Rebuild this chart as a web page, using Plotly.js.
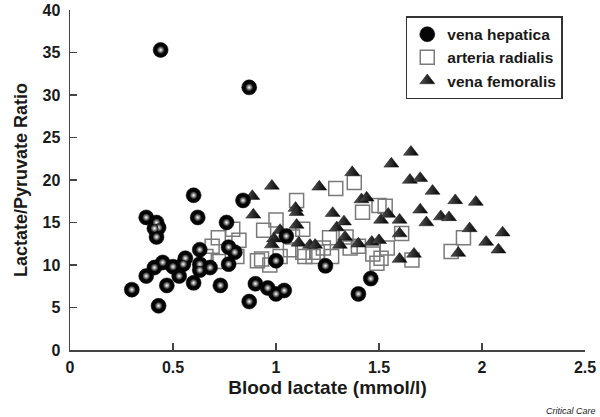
<!DOCTYPE html>
<html>
<head>
<meta charset="utf-8">
<script src="https://cdn.plot.ly/plotly-3.0.1.min.js"></script>
<style>html,body{margin:0;padding:0;background:#fff;}#chart{width:600px;height:417px;}</style>
</head>
<body>
<div id="chart"></div>
<script>
// vena hepatica (spheres)
const hepaticaX = [0.44,0.87,0.60,0.37,0.42,0.43,0.41,0.42,0.62,0.76,0.84,1.05,0.63,0.77,0.80,0.56,0.45,0.50,0.41,0.63,0.68,0.77,0.63,0.55,0.37,0.53,0.60,0.47,0.73,0.30,0.43,0.90,0.96,1.00,1.04,0.87,1.00,1.24,1.46,1.40];
const hepaticaY = [35.3,30.9,18.2,15.6,15.0,14.4,14.3,13.3,15.6,15.0,17.6,13.4,11.8,12.1,11.5,10.8,10.3,9.8,9.7,10.1,9.7,10.1,9.4,10.1,8.7,8.7,7.9,7.6,7.6,7.1,5.2,7.8,7.3,6.6,7.0,5.7,10.5,9.9,8.4,6.6];
// arteria radialis (open squares)
const radialisX = [0.66,0.69,0.72,0.72,0.79,0.82,0.81,0.91,0.93,0.94,0.97,1.00,1.02,1.07,1.08,1.10,1.13,1.13,1.14,1.18,1.20,1.23,1.26,1.27,1.29,1.34,1.36,1.38,1.40,1.42,1.47,1.49,1.51,1.50,1.53,1.54,1.61,1.66,1.85,1.91];
const radialisY = [11.0,12.2,10.4,13.2,14.2,12.9,11.0,10.5,10.7,14.1,10.0,15.3,11.0,11.8,13.3,17.6,14.2,11.5,11.0,11.0,11.5,12.0,13.2,11.0,19.0,13.3,12.0,19.7,12.2,16.2,11.3,10.2,10.8,17.0,16.9,12.0,13.7,10.6,11.6,13.2];
// vena femoralis (triangles)
const femoralisX = [0.885,0.98,0.89,1.02,0.99,0.98,1.095,1.10,1.10,1.11,1.165,1.19,1.21,1.275,1.295,1.33,1.335,1.31,1.37,1.40,1.415,1.44,1.465,1.50,1.51,1.545,1.56,1.60,1.60,1.60,1.655,1.65,1.70,1.67,1.70,1.73,1.76,1.80,1.84,1.87,1.885,1.94,1.97,2.02,2.08,2.10];
const femoralisY = [18.1,19.3,15.9,14.1,13.1,12.4,16.7,16.2,14.7,12.6,12.35,12.35,19.2,16.1,14.4,15.1,13.3,12.35,20.9,12.5,17.7,17.9,12.7,12.9,15.3,16.0,21.9,15.3,13.7,10.7,23.3,20.0,20.2,11.3,16.5,15.0,18.7,15.7,15.6,17.6,11.4,14.3,17.4,12.7,11.8,13.8];

const xTicks = [0,0.5,1,1.5,2,2.5];
const xTickText = ['0','0.5','1','1.5','2','2.5'];
const yTicks = [0,5,10,15,20,25,30,35,40];
const yTickText = ['0','5','10','15','20','25','30','35','40'];

const FONT = 'Liberation Sans, Arial, Helvetica, sans-serif';
const bold = s => '<b>' + s + '</b>';

const traces = [
  {
    x: radialisX, y: radialisY, mode: 'markers', type: 'scatter', name: bold('arteria radialis'), legendrank: 2,
    marker: {symbol: 'square-open', size: 14, color: '#7a7a7a', line: {width: 1.5, color: '#7a7a7a'}}
  },
  {
    x: femoralisX, y: femoralisY, mode: 'markers', type: 'scatter', name: bold('vena femoralis'), legendrank: 3,
    marker: {symbol: 'triangle-up', size: 13, color: '#555', gradient: {type: 'horizontal', color: '#000'}, line: {width: 0.5, color: '#111'}}
  },
  {
    x: hepaticaX, y: hepaticaY, mode: 'markers', type: 'scatter', name: bold('vena hepatica'), legendrank: 1,
    marker: {symbol: 'circle', size: 15, color: '#050505', line: {width: 0.5, color: '#000'}}
  },
  {
    x: hepaticaX, y: hepaticaY, mode: 'markers', type: 'scatter', name: 'hl', showlegend: false, hoverinfo: 'skip',
    marker: {symbol: 'circle', size: 8, color: '#050505', gradient: {type: 'radial', color: '#ffffff'}, line: {width: 0}}
  }
];

const layout = {
  width: 600, height: 417,
  margin: {l: 70, r: 15, t: 10, b: 67},
  paper_bgcolor: '#fff', plot_bgcolor: '#fff',
  font: {family: FONT, color: '#1a1a1a'},
  showlegend: true,
  legend: {
    x: 0.652, y: 0.982, xanchor: 'left', yanchor: 'top',
    bordercolor: '#333', borderwidth: 1.5, bgcolor: '#fff',
    font: {family: FONT, size: 15.5, color: '#1a1a1a'},
    traceorder: 'normal', tracegroupgap: 0
  },
  xaxis: {
    range: [0, 2.5], tickvals: xTicks, ticktext: xTickText.map(bold),
    ticks: 'inside', ticklen: 7, tickwidth: 1.5, tickcolor: '#444', ticklabelstandoff: 2,
    showline: true, linecolor: '#444', linewidth: 1.5, mirror: false,
    showgrid: false, zeroline: false,
    tickfont: {family: FONT, size: 16, color: '#1a1a1a'},
    title: {text: bold('Blood lactate (mmol/l)'), font: {family: FONT, size: 19, color: '#1a1a1a'}, standoff: 6}
  },
  yaxis: {
    range: [0, 40], tickvals: yTicks, ticktext: yTickText.map(bold),
    ticks: 'inside', ticklen: 7, tickwidth: 1.5, tickcolor: '#444', ticklabelstandoff: 5,
    showline: true, linecolor: '#444', linewidth: 1.5, mirror: false,
    showgrid: false, zeroline: false,
    tickfont: {family: FONT, size: 16, color: '#1a1a1a'},
    title: {text: bold('Lactate/Pyruvate Ratio'), font: {family: FONT, size: 18, color: '#1a1a1a'}, standoff: 10}
  },
  annotations: [
    {text: 'Critical Care', xref: 'paper', yref: 'paper', x: 1.025, y: -0.178, xanchor: 'right', yanchor: 'middle',
     showarrow: false, font: {family: FONT, size: 9, style: 'italic', color: '#222'}}
  ]
};

Plotly.newPlot('chart', traces, layout, {staticPlot: true, displayModeBar: false});
</script>
</body>
</html>
